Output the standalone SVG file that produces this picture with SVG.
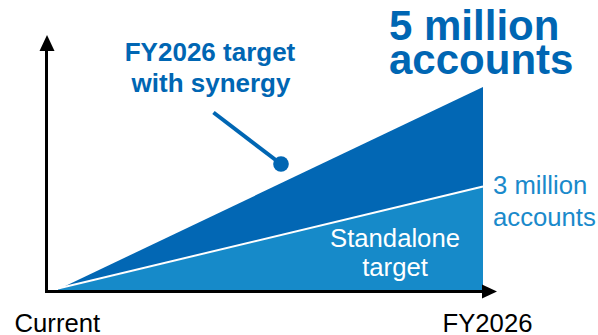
<svg xmlns="http://www.w3.org/2000/svg" width="598" height="335" viewBox="0 0 598 335">
<style>
.t{font-family:"Liberation Sans",Arial,sans-serif;}
.b{font-weight:bold;fill:#0066b3;}
.lt{fill:#1a8acb;font-size:25.7px;}
.wt{fill:#ffffff;font-size:25.7px;}
.k{fill:#000000;font-size:25.7px;}
.ax{stroke:#000;stroke-width:3;fill:none;}
</style>
<rect width="598" height="335" fill="#ffffff"/>
<g id="areas">
<polygon points="58,289.5 483,87 483,290 58,290" fill="#0267b4"/>
<polygon points="58,289.5 483,186.5 483,290 58,290" fill="#168ac9"/>
<line x1="58" y1="288.5" x2="483" y2="186.5" stroke="#ffffff" stroke-width="2"/>
</g>
<g id="axes">
<line class="ax" x1="46.5" y1="293" x2="46.5" y2="49"/>
<polygon points="47,35 39.5,51 54.5,51" fill="#000"/>
<line class="ax" x1="45" y1="291.5" x2="484" y2="291.5"/>
<polygon points="497,291.5 482,284.5 482,298.5" fill="#000"/>
</g>
<g id="connectors">
<line x1="213.5" y1="112.5" x2="281" y2="164" stroke="#0066b3" stroke-width="4"/>
<circle cx="281" cy="164" r="7.8" fill="#0066b3"/>
</g>
<g id="label-synergy">
<text class="t b" font-size="26" text-anchor="middle" x="210" y="61">FY2026 target</text>
<text class="t b" font-size="26" text-anchor="middle" x="211" y="91.5">with synergy</text>
</g>
<g id="label-5m">
<text class="t b" font-size="42" x="389" y="40">5 million</text>
<text class="t b" font-size="42" x="389" y="74">accounts</text>
</g>
<g id="label-3m">
<text class="t lt" x="493" y="194">3 million</text>
<text class="t lt" x="493" y="225.5">accounts</text>
</g>
<g id="label-standalone">
<text class="t wt" text-anchor="middle" x="395" y="247">Standalone</text>
<text class="t wt" text-anchor="middle" x="395" y="276">target</text>
</g>
<g id="axis-labels">
<text class="t k" x="14.5" y="331.5">Current</text>
<text class="t k" x="442.5" y="332">FY2026</text>
</g>
</svg>
